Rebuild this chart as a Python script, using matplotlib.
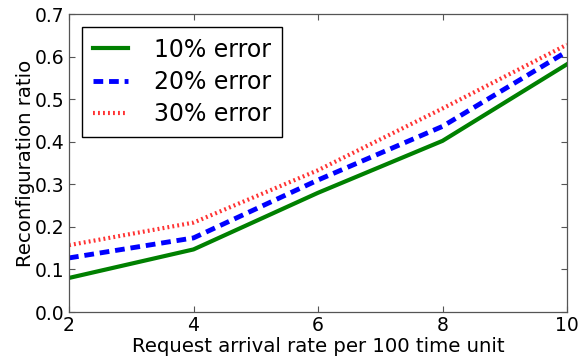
import matplotlib
matplotlib.use("Agg")
import matplotlib.pyplot as plt

x = [2, 4, 6, 8, 10]
err10 = [0.080, 0.147, 0.280, 0.402, 0.582]
err20 = [0.127, 0.174, 0.310, 0.436, 0.612]
err30 = [0.157, 0.210, 0.333, 0.478, 0.628]
labels = ["10% error", "20% error", "30% error"]

fig = plt.figure(figsize=(5.79, 3.64), dpi=100)
ax = fig.add_axes([69/579, 52/364, (567-69)/579, (312-14)/364])
ax.plot(x, err10, color="green", lw=3, ls="-", label=labels[0])
ax.plot(x, err20, color="blue", lw=3.5, ls=(0, (2, 1.2)), label=labels[1])
ax.plot(x, err30, color="red", lw=3, ls=(0, (0.45, 0.75)), alpha=0.8, label=labels[2])
ax.set_xlim(2, 10)
ax.set_ylim(0, 0.7)
ax.set_xticks([2, 4, 6, 8, 10])
ax.set_yticks([0.0, 0.1, 0.2, 0.3, 0.4, 0.5, 0.6, 0.7])
ax.set_yticklabels(["0.0", "0.1", "0.2", "0.3", "0.4", "0.5", "0.6", "0.7"])
ax.tick_params(direction="in", top=True, right=True, labelsize=13.5, length=4,
               pad=3, color="#555555", width=0.8)
ax.set_xlabel("Request arrival rate per 100 time unit", fontsize=14.2, labelpad=1)
ax.set_ylabel("Reconfiguration ratio", fontsize=14.2, labelpad=0)
for s in ax.spines.values():
    s.set_color("#555555")
    s.set_linewidth(0.9)
leg = ax.legend(loc="upper left", fontsize=17, fancybox=False, framealpha=1,
                edgecolor="black", handlelength=1.5, borderpad=0.45, labelspacing=0.35,
                handletextpad=1.1, borderaxespad=0.55)
leg.get_frame().set_linewidth(1)
fig.savefig("out.png", dpi=100)
